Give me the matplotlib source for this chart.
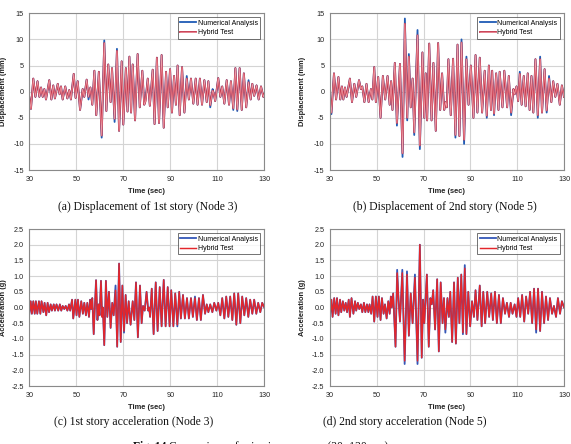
import matplotlib
matplotlib.use("Agg")
import matplotlib.pyplot as plt
import matplotlib.patheffects as pe

# ---------------- data (extrema) ----------------
time_a = [30.0, 30.7, 31.7, 32.6, 33.5, 34.3, 35.0, 35.7, 36.4, 37.1,
          38.5, 39.4, 40.2, 40.9, 42.1, 42.9, 43.5, 44.2, 45.3, 46.2,
          47.0, 47.7, 48.9, 49.7, 50.6, 51.6, 52.7, 53.4, 54.4, 55.2,
          56.0, 56.8, 57.7, 58.5, 59.6, 60.8, 61.9, 62.8, 63.6, 64.6,
          65.2, 66.3, 67.3, 68.2, 69.3, 70.0, 71.1, 71.8, 72.6, 73.3,
          74.0, 75.0, 76.1, 77.0, 78.1, 78.9, 79.5, 80.4, 81.3, 82.5,
          83.3, 84.3, 85.2, 86.3, 87.2, 88.2, 88.9, 89.9, 90.7, 91.6,
          92.4, 93.1, 94.0, 95.0, 96.0, 97.0, 97.9, 98.8, 99.8, 100.8,
          101.6, 102.6, 103.5, 104.5, 105.5, 106.2, 107.0, 108.0, 108.4, 109.1,
          110.4, 111.3, 112.1, 113.0, 114.0, 115.0, 115.8, 116.8, 117.7, 118.5,
          119.5, 120.4, 121.3, 122.3, 123.3, 124.2, 124.9, 125.7, 126.7, 127.6,
          128.6, 129.6, 130.0]
num_a = [-1.0, -3.3, 2.5, -1.0, 2.0, -1.0, 0.8, -1.0, 0.5, -1.5,
         2.2, -1.5, 1.2, -1.3, 1.5, -0.5, 1.0, -1.5, 1.0, -1.3,
         0.3, -1.5, 3.4, -1.2, 2.0, -3.5, 0.5, -1.0, 2.3, -1.5,
         0.8, -2.5, 4.0, -4.5, 3.8, -8.8, 9.8, -3.7, 5.2, -2.0,
         4.5, -5.8, 8.2, -7.5, 5.8, -6.3, 4.5, -3.8, 6.7, -4.0,
         5.2, -5.5, 7.2, -3.0, 4.0, -2.5, -1.3, 2.5, -2.7, 4.2,
         -6.2, 6.5, -6.0, 7.0, -6.9, 3.8, -3.0, 4.3, -4.0, 3.0,
         -2.5, 5.0, -4.5, 4.7, -4.0, 3.0, -1.5, 2.5, -2.3, 2.5,
         -2.5, 2.5, -2.5, 2.2, -2.0, 2.0, -3.0, 0.5, -0.2, -1.8,
         2.6, -1.0, 1.0, -2.3, 2.2, -2.5, 2.0, -3.5, 4.5, -3.7,
         4.5, -3.5, 3.5, -3.0, 2.2, -1.5, 1.5, -0.8, 1.2, -1.5,
         1.0, -1.0, -0.5]
hyb_a = [-1.0, -3.3, 2.5, -1.0, 2.0, -1.0, 0.8, -1.0, 0.5, -1.5,
         2.2, -1.5, 1.2, -1.3, 1.5, -0.5, 1.0, -1.5, 1.0, -1.3,
         0.3, -1.5, 3.4, -1.2, 2.0, -3.5, 0.5, -1.0, 2.3, -1.0,
         0.8, -2.5, 4.0, -4.5, 3.8, -8.4, 9.3, -3.7, 5.2, -2.0,
         4.5, -5.2, 7.8, -7.5, 5.8, -6.3, 4.5, -3.8, 6.7, -4.0,
         5.2, -5.5, 7.2, -3.0, 4.0, -2.5, -1.8, 2.5, -2.7, 4.2,
         -6.2, 6.5, -6.0, 7.0, -6.9, 3.8, -3.0, 4.3, -4.0, 3.0,
         -2.5, 5.0, -4.5, 4.7, -4.0, 2.5, -1.5, 2.5, -2.3, 2.5,
         -2.5, 2.5, -2.5, 2.2, -2.0, 2.0, -2.6, 0.2, -0.2, -1.8,
         2.6, -1.0, 1.0, -2.3, 2.2, -2.5, 2.0, -3.2, 4.5, -3.4,
         4.5, -3.5, 3.5, -3.0, 1.8, -1.5, 1.5, -0.8, 1.2, -1.5,
         1.0, -1.0, -0.5]

time_b = [30.0, 30.6, 31.7, 32.6, 33.6, 34.4, 35.1, 35.7, 36.4, 37.1,
          38.5, 39.4, 40.4, 41.2, 42.4, 43.2, 43.8, 44.7, 45.6, 46.5,
          47.5, 48.1, 48.9, 49.6, 50.6, 51.6, 52.6, 53.6, 54.6, 55.5,
          56.1, 56.7, 57.7, 58.6, 59.9, 61.0, 62.0, 63.0, 63.7, 64.5,
          65.3, 66.0, 67.4, 68.4, 69.5, 70.3, 70.9, 71.5, 72.4, 73.4,
          74.2, 75.2, 76.2, 77.1, 77.9, 78.8, 79.4, 79.9, 80.6, 81.6,
          82.6, 83.6, 84.5, 85.3, 86.2, 87.3, 88.3, 89.2, 90.2, 91.3,
          92.2, 93.0, 94.0, 95.0, 96.1, 97.0, 97.9, 98.8, 99.3, 100.1,
          101.0, 102.0, 102.5, 103.7, 104.5, 105.7, 106.4, 107.4, 108.4, 108.9,
          109.7, 110.4, 111.1, 111.9, 112.8, 113.6, 114.5, 115.3, 116.1, 116.9,
          117.8, 118.8, 119.8, 120.6, 121.7, 122.6, 123.6, 124.6, 125.4, 126.3,
          127.2, 128.2, 129.1, 130.0]
num_b = [-1.0, -4.3, 3.5, -1.5, 2.8, -1.5, 1.0, -1.5, 0.8, -1.0,
         2.5, -2.0, 1.5, -1.0, 2.2, 0.5, 1.0, -2.0, 1.5, -2.0,
         0.5, -1.5, 4.7, -2.0, 2.8, -5.0, 3.0, -1.5, 3.0, -2.5,
         2.0, -3.5, 5.5, -6.5, 5.3, -12.5, 14.0, -5.5, 7.2, -3.0,
         2.5, -8.3, 11.8, -11.0, 7.5, -5.0, 3.5, -5.5, 9.2, -5.5,
         5.5, -7.5, 9.3, -3.5, 3.5, -3.5, -2.0, -3.0, 6.2, -4.5,
         6.3, -8.8, 9.0, -8.5, 10.0, -10.0, 6.7, -2.5, 5.0, -5.0,
         7.0, -4.0, 6.5, -4.0, 4.0, -5.0, 5.0, -3.5, 4.0, -4.5,
         3.5, -3.5, 3.8, -3.0, 4.0, -3.0, 3.0, -4.5, 0.5, -0.5,
         1.0, -1.8, 3.8, -2.5, 3.0, -2.8, 3.5, -3.5, 3.0, -4.0,
         6.2, -5.0, 6.7, -4.0, 4.3, -4.0, 3.0, -2.0, 2.0, -1.0,
         1.5, -2.5, 1.2, -1.0]
hyb_b = [-1.0, -4.0, 3.5, -1.5, 2.8, -1.5, 1.0, -1.5, 0.8, -1.0,
         2.5, -2.0, 1.5, -1.0, 2.2, 0.5, 1.0, -2.0, 1.5, -2.0,
         0.5, -1.5, 4.7, -2.0, 2.8, -5.0, 3.0, -1.5, 3.0, -2.5,
         2.0, -3.5, 5.5, -6.0, 5.3, -11.8, 13.0, -5.0, 6.7, -3.0,
         2.5, -7.8, 10.8, -10.3, 7.5, -5.0, 3.5, -5.5, 9.2, -5.5,
         5.5, -7.5, 9.3, -3.5, 3.5, -3.5, -2.0, -3.0, 6.2, -4.5,
         6.3, -8.3, 9.0, -8.5, 9.4, -9.2, 6.2, -2.5, 5.0, -5.0,
         7.0, -4.0, 6.5, -4.0, 4.0, -4.6, 5.0, -3.5, 4.0, -4.2,
         3.5, -3.5, 3.8, -3.0, 4.0, -3.0, 3.0, -4.0, 0.5, -0.5,
         1.0, -1.8, 3.4, -2.5, 3.0, -2.8, 3.5, -3.5, 3.0, -4.0,
         6.2, -4.5, 6.2, -4.0, 4.3, -3.6, 2.5, -2.0, 2.0, -1.0,
         1.5, -2.5, 1.2, -1.0]

time_c = [30.0, 30.6, 31.1, 31.7, 32.3, 32.8, 33.4, 34.1, 34.7, 35.2,
          36.0, 36.5, 37.2, 37.8, 38.4, 39.1, 39.6, 40.4, 40.9, 41.6,
          42.3, 43.0, 43.6, 44.2, 44.9, 45.5, 46.2, 46.9, 47.4, 48.2,
          48.7, 49.6, 50.1, 50.7, 51.3, 52.1, 52.8, 53.4, 54.1, 54.7,
          55.4, 55.9, 56.3, 56.8, 57.4, 58.4, 59.0, 59.5, 59.9, 60.5,
          61.0, 61.3, 61.9, 62.6, 63.2, 63.9, 64.6, 65.3, 65.9, 66.7,
          67.4, 68.2, 68.9, 69.6, 70.3, 71.0, 71.6, 72.3, 73.1, 74.0,
          74.7, 75.4, 76.2, 77.1, 77.8, 78.4, 79.1, 79.9, 80.6, 81.0,
          81.4, 82.1, 82.9, 83.8, 84.6, 85.5, 86.3, 87.2, 88.0, 88.9,
          89.7, 90.4, 91.3, 92.1, 93.0, 93.8, 94.5, 95.4, 96.2, 97.1,
          97.9, 98.8, 99.6, 100.5, 101.3, 102.2, 103.0, 103.9, 104.8, 105.5,
          106.2, 107.0, 107.9, 108.7, 109.6, 110.4, 111.3, 112.1, 113.0, 113.8,
          114.7, 115.5, 116.4, 117.2, 118.1, 118.9, 119.8, 120.6, 121.5, 122.3,
          123.2, 124.0, 124.9, 125.7, 126.6, 127.4, 128.3, 129.1, 130.0]
num_c = [-0.2, 0.2, -0.2, 0.2, -0.2, 0.2, -0.2, 0.2, -0.2, 0.2,
         -0.15, 0.15, -0.25, 0.15, -0.15, 0.1, -0.1, 0.1, -0.1, 0.1,
         -0.1, 0.1, -0.1, 0.05, -0.05, 0.05, -0.1, 0.1, -0.1, 0.25,
         -0.35, 0.25, -0.25, 0.25, -0.3, 0.2, -0.2, 0.15, -0.25, 0.15,
         -0.3, 0.25, -0.05, 0.3, -0.85, 0.87, -0.4, 0.1, -0.25, 0.85,
         -0.3, 0.0, -1.2, 0.85, -0.3, 0.5, -0.65, 0.15, -0.25, 0.7,
         -1.25, 1.4, -1.1, 0.7, -0.8, 0.4, -0.5, 0.2, -0.55, 0.2,
         -0.4, 0.8, -0.95, 0.7, -0.5, 0.05, -0.1, 0.5, -0.1, 0.0,
         -0.3, 0.6, -0.85, 0.8, -0.75, 0.65, -0.6, 0.88, -0.6, 0.65,
         -0.6, 0.55, -0.6, 0.45, -0.6, 0.5, -0.35, 0.4, -0.35, 0.3,
         -0.35, 0.3, -0.3, 0.35, -0.4, 0.3, -0.4, 0.4, -0.2, 0.1,
         -0.15, 0.1, -0.15, 0.15, -0.1, 0.15, -0.25, 0.3, -0.35, 0.35,
         -0.3, 0.35, -0.4, 0.45, -0.55, 0.45, -0.5, 0.35, -0.25, 0.3,
         -0.3, 0.25, -0.2, 0.25, -0.2, 0.15, -0.15, 0.15, 0.0]
hyb_c = [-0.2, 0.2, -0.2, 0.2, -0.2, 0.2, -0.2, 0.2, -0.2, 0.2,
         -0.15, 0.15, -0.25, 0.15, -0.15, 0.1, -0.1, 0.1, -0.1, 0.1,
         -0.1, 0.1, -0.1, 0.05, -0.05, 0.05, -0.1, 0.1, -0.1, 0.25,
         -0.35, 0.25, -0.25, 0.25, -0.3, 0.2, -0.2, 0.15, -0.25, 0.15,
         -0.3, 0.25, -0.05, 0.3, -0.85, 0.87, -0.4, 0.1, -0.25, 0.85,
         -0.3, 0.0, -1.2, 0.85, -0.3, 0.5, -0.65, 0.15, -0.25, 0.55,
         -1.25, 1.4, -1.1, 0.7, -0.75, 0.4, -0.5, 0.2, -0.55, 0.2,
         -0.4, 0.8, -0.95, 0.7, -0.5, 0.05, -0.1, 0.5, -0.1, 0.0,
         -0.3, 0.6, -0.85, 0.8, -0.75, 0.65, -0.6, 0.88, -0.6, 0.65,
         -0.6, 0.55, -0.6, 0.45, -0.55, 0.5, -0.35, 0.4, -0.35, 0.3,
         -0.35, 0.3, -0.3, 0.3, -0.4, 0.3, -0.4, 0.4, -0.2, 0.1,
         -0.15, 0.1, -0.15, 0.15, -0.1, 0.15, -0.25, 0.3, -0.35, 0.35,
         -0.3, 0.35, -0.4, 0.45, -0.55, 0.45, -0.5, 0.35, -0.25, 0.3,
         -0.3, 0.25, -0.2, 0.25, -0.2, 0.15, -0.15, 0.15, 0.0]

time_d = [30.0, 30.6, 31.1, 31.8, 32.4, 33.0, 33.6, 34.3, 34.8, 35.5,
          36.1, 36.7, 37.3, 38.0, 38.5, 39.2, 40.0, 40.7, 41.2, 41.9,
          42.5, 43.2, 43.8, 44.5, 45.1, 45.8, 46.4, 46.9, 47.6, 48.2,
          48.9, 49.6, 50.3, 50.9, 51.6, 52.2, 52.9, 53.5, 54.2, 54.9,
          55.5, 56.0, 56.4, 57.0, 58.0, 58.7, 59.3, 59.9, 60.9, 61.9,
          62.9, 63.7, 64.5, 65.3, 66.3, 67.4, 68.4, 69.2, 69.8, 70.3,
          71.4, 72.2, 72.9, 73.5, 74.1, 74.9, 75.8, 76.5, 77.3, 78.1,
          78.7, 79.3, 80.2, 80.8, 81.4, 82.2, 83.0, 83.8, 84.6, 85.3,
          86.1, 86.8, 87.6, 88.3, 89.1, 89.9, 90.7, 91.5, 92.2, 93.0,
          94.0, 94.8, 95.5, 96.3, 97.2, 98.0, 98.9, 99.6, 100.5, 101.3,
          102.2, 103.0, 103.9, 104.8, 105.6, 106.5, 107.2, 108.0, 108.9, 109.7,
          110.4, 111.3, 112.1, 113.0, 113.8, 114.7, 115.5, 116.4, 117.2, 118.1,
          118.9, 119.8, 120.6, 121.5, 122.3, 123.2, 124.0, 124.9, 125.7, 126.6,
          127.4, 128.3, 129.1, 130.0]
num_d = [-0.25, 0.25, -0.3, 0.3, -0.2, 0.3, -0.25, 0.25, -0.15, 0.2,
         -0.1, 0.15, -0.15, 0.25, -0.3, 0.3, -0.2, 0.2, -0.1, 0.15,
         -0.05, 0.1, -0.15, 0.15, -0.15, 0.1, -0.15, 0.1, -0.2, 0.35,
         -0.45, 0.35, -0.3, 0.35, -0.4, 0.3, -0.2, 0.1, -0.35, 0.2,
         -0.2, 0.35, 0.0, 0.45, -1.25, 1.2, 0.25, -0.45, 1.2, -1.8,
         1.15, -0.9, 0.45, -0.5, 1.05, -1.8, 2.0, -1.6, 0.25, -0.5,
         1.05, -1.25, 0.3, 0.1, 0.55, -0.7, 0.9, -1.4, 0.8, -0.5,
         0.3, -0.8, 0.3, -0.3, 0.5, -1.1, 0.8, -1.15, 0.95, -0.5,
         1.05, -0.85, 1.35, -0.85, 0.5, -0.6, 0.2, -0.3, 0.55, -0.4,
         0.7, -0.6, 0.5, -0.5, 0.5, -0.3, 0.45, -0.4, 0.5, -0.5,
         0.4, -0.5, 0.3, -0.2, 0.15, -0.3, 0.15, -0.2, 0.1, -0.3,
         0.3, -0.3, 0.4, -0.45, 0.35, -0.2, 0.5, -0.5, 0.6, -0.8,
         0.6, -0.75, 0.5, -0.5, 0.35, -0.4, 0.3, -0.2, 0.05, -0.3,
         0.3, -0.2, 0.2, 0.0]
hyb_d = [-0.25, 0.25, -0.3, 0.3, -0.2, 0.3, -0.25, 0.25, -0.15, 0.2,
         -0.1, 0.15, -0.15, 0.25, -0.3, 0.3, -0.2, 0.2, -0.1, 0.15,
         -0.05, 0.1, -0.15, 0.15, -0.15, 0.1, -0.15, 0.1, -0.2, 0.35,
         -0.45, 0.35, -0.3, 0.35, -0.4, 0.3, -0.2, 0.1, -0.35, 0.2,
         -0.2, 0.35, 0.0, 0.45, -1.25, 1.1, 0.25, -0.45, 1.1, -1.7,
         1.05, -0.9, 0.45, -0.5, 0.95, -1.7, 2.0, -1.6, 0.25, -0.5,
         1.05, -1.25, 0.3, 0.1, 0.55, -0.7, 0.9, -1.4, 0.8, -0.5,
         0.3, -0.7, 0.3, -0.3, 0.5, -1.1, 0.8, -1.15, 0.95, -0.5,
         1.05, -0.8, 1.25, -0.85, 0.5, -0.6, 0.2, -0.3, 0.55, -0.4,
         0.7, -0.6, 0.5, -0.5, 0.5, -0.3, 0.45, -0.4, 0.5, -0.5,
         0.4, -0.5, 0.3, -0.2, 0.15, -0.3, 0.15, -0.2, 0.1, -0.3,
         0.3, -0.3, 0.4, -0.45, 0.35, -0.2, 0.5, -0.5, 0.6, -0.7,
         0.6, -0.75, 0.5, -0.5, 0.35, -0.4, 0.3, -0.2, 0.05, -0.3,
         0.3, -0.2, 0.2, 0.0]

x_ticks = [30, 50, 70, 90, 110, 130]
disp_ticks = [-15, -10, -5, 0, 5, 10, 15]
acc_ticks = [-2.5, -2.0, -1.5, -1.0, -0.5, 0.0, 0.5, 1.0, 1.5, 2.0, 2.5]

series_labels = ["Numerical Analysis", "Hybrid Test"]
panel_captions = ["(a) Displacement of 1st story (Node 3)",
                  "(b) Displacement of 2nd story (Node 5)",
                  "(c) 1st story acceleration (Node 3)",
                  "(d) 2nd story acceleration (Node 5)"]
fig_caption_bold = "Fig. 14"
fig_caption_rest = " Comparison of seismic responses (30~130 sec)"

# ---------------- figure ----------------
W, H = 571, 444
fig = plt.figure(figsize=(W / 100, H / 100), dpi=100)
fig.patch.set_facecolor("white")


def px_axes(x0, y0, x1, y1):
    return fig.add_axes([x0 / W, 1 - y1 / H, (x1 - x0) / W, (y1 - y0) / H])


TICK_FONT = "Liberation Sans"


def style_axes(ax, yticks, ylim, ylabel, yfmt, ylab_x):
    ax.set_xlim(30, 130)
    ax.set_ylim(*ylim)
    ax.set_xticks(x_ticks)
    ax.set_yticks(yticks)
    ax.set_yticklabels([yfmt.format(v) for v in yticks])
    ax.grid(True, color="#d4d4d4", linewidth=0.8)
    ax.set_axisbelow(True)
    for s in ax.spines.values():
        s.set_color("#8a8a8a")
        s.set_linewidth(0.8)
    ax.tick_params(length=0, pad=4, labelsize=5.2, labelcolor="#222222")
    for lab in ax.get_xticklabels() + ax.get_yticklabels():
        lab.set_fontfamily(TICK_FONT)
    ax.set_xlabel("Time (sec)", fontsize=5.4, fontweight="bold",
                  family=TICK_FONT, color="#222222")
    ax.xaxis.set_label_coords(0.5, -0.115)
    ax.set_ylabel(ylabel, fontsize=5.4, fontweight="bold",
                  family=TICK_FONT, color="#222222")
    ax.yaxis.set_label_coords(ylab_x, 0.5)


def legend(ax, handles):
    leg = ax.legend(handles, series_labels, loc="upper right",
                    frameon=True, fancybox=False,
                    edgecolor="#333333", handlelength=2.3,
                    handletextpad=0.2, borderpad=0.35, labelspacing=0.35,
                    borderaxespad=0.6, prop={"family": TICK_FONT, "size": 5.0})
    leg.get_frame().set_linewidth(0.6)


# displacement panels
disp_panels = [
    (px_axes(29.3, 13.3, 264.3, 170), time_a, num_a, hyb_a, -0.093),
    (px_axes(330, 13.3, 564, 170), time_b, num_b, hyb_b, -0.103),
]
for ax, t, n, h, lx in disp_panels:
    l1, = ax.plot(t, n, color="#1f5bb5", linewidth=1.3)
    l2, = ax.plot(t, h, color="#f0a0aa", linewidth=0.5,
                  path_effects=[pe.Stroke(linewidth=1.35, foreground="#c73a4e"),
                                pe.Normal()])
    style_axes(ax, disp_ticks, (-15, 15), "Displacement (mm)", "{:g}", lx)
    legend(ax, [l1, l2])

# acceleration panels
acc_panels = [
    (px_axes(29.3, 229, 264.3, 386), time_c, num_c, hyb_c, -0.093),
    (px_axes(330, 229, 564, 386), time_d, num_d, hyb_d, -0.103),
]
for ax, t, n, h, lx in acc_panels:
    l1, = ax.plot(t, n, color="#3457b8", linewidth=1.3)
    l2, = ax.plot(t, h, color="#e3262b", linewidth=1.05)
    style_axes(ax, acc_ticks, (-2.5, 2.5), "Acceleration (g)", "{:.1f}", lx)
    legend(ax, [l1, l2])

# captions
cap_kw = dict(family="Liberation Serif", fontsize=8.4, ha="center",
              va="center", color="#111111")
fig.text(148 / W, 1 - 207 / H, panel_captions[0], **cap_kw)
fig.text(445 / W, 1 - 207 / H, panel_captions[1], **cap_kw)
fig.text(134 / W, 1 - 422 / H, panel_captions[2], **cap_kw)
fig.text(405 / W, 1 - 422 / H, panel_captions[3], **cap_kw)

t1 = fig.text(133 / W, 1 - 440.5 / H, fig_caption_bold, family="Liberation Serif",
              fontsize=8.4, fontweight="bold", ha="left", va="top", color="#111111")
fig.canvas.draw()
bb = t1.get_window_extent()
fig.text(bb.x1 / W, 1 - 440.5 / H, fig_caption_rest, family="Liberation Serif",
         fontsize=8.4, ha="left", va="top", color="#111111")

fig.savefig("out.png", dpi=100, facecolor="white")
